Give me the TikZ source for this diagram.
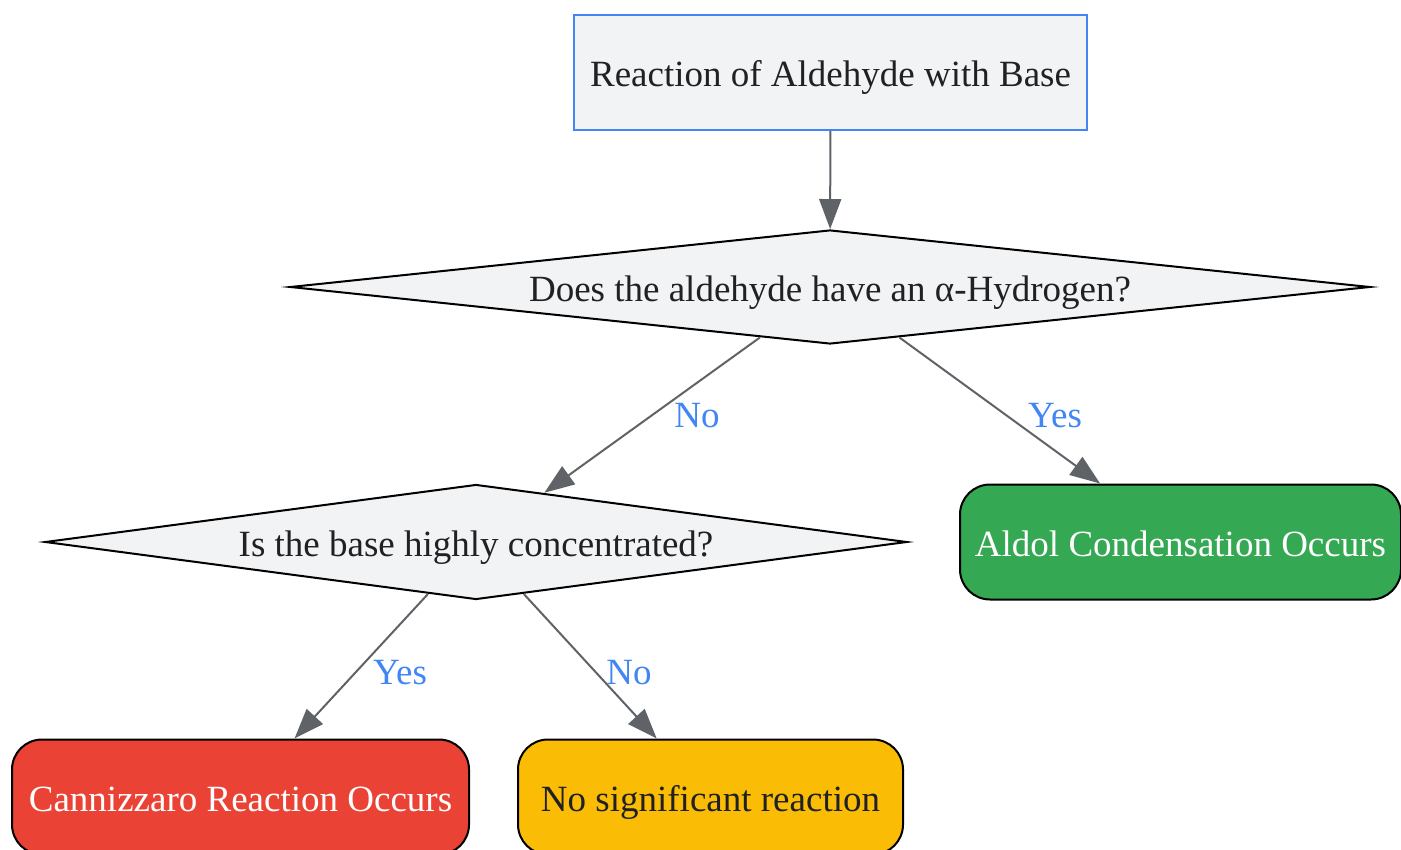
\documentclass[tikz,border=0pt]{standalone}
\usepackage{fontspec}
\setmainfont{Liberation Serif}
\usepackage{tikz}
\usetikzlibrary{arrows.meta,shapes.geometric,positioning}

\definecolor{boxgray}{HTML}{F1F3F4}
\definecolor{gblue}{HTML}{4285F4}
\definecolor{ggreen}{HTML}{34A853}
\definecolor{gred}{HTML}{EA4335}
\definecolor{gyellow}{HTML}{FBBC05}
\definecolor{arrowgray}{HTML}{5F6368}
\definecolor{inkdark}{HTML}{202124}

\tikzset{
  lowtext/.style={text height=16pt, text depth=1.5pt},
  startbox/.style={lowtext, draw=gblue, fill=boxgray, line width=1pt, text=inkdark,
    minimum width=256.5pt, minimum height=57.5pt},
  question/.style={lowtext, diamond, draw=black, fill=boxgray, line width=1pt, text=inkdark,
    aspect=10, inner sep=0pt},
  outcome/.style={lowtext, draw=black, line width=1pt, rounded corners=15pt, minimum height=57.5pt},
  arr/.style={draw=arrowgray, line width=1pt, -{Triangle[length=15pt,width=11pt]}},
  lbl/.style={text=gblue}
}

\begin{document}
\begin{tikzpicture}[x=0.5pt, y=-0.5pt, font=\fontsize{18.5}{22}\selectfont]
  \useasboundingbox (0,0) rectangle (1401,850);

  % Nodes
  \node[startbox] (start) at (830.5,72.5) {Reaction of Aldehyde with Base};
  \node[question, minimum width=540pt, minimum height=57pt] (alpha) at (830,287)
    {Does the aldehyde have an α-Hydrogen?};
  \node[question, minimum width=431pt, minimum height=57.5pt] (conc) at (476,542)
    {Is the base highly concentrated?};
  \node[outcome, fill=ggreen, text=white, minimum width=220.5pt] (aldol) at (1180.5,542)
    {Aldol Condensation Occurs};
  \node[outcome, fill=gred, text=white, minimum width=228.5pt] (cann) at (240.5,797)
    {Cannizzaro Reaction Occurs};
  \node[outcome, fill=gyellow, text=inkdark, minimum width=192.5pt] (none) at (710.5,797)
    {No significant reaction};

  % Edges
  \draw[arr] (start) -- (alpha);
  \draw[arr] (alpha) -- (conc) node[lbl] (alphano) at (697,416) {No};
  \draw[arr] (alpha) -- (aldol) node[lbl] (alphayes) at (1055,416) {Yes};
  \draw[arr] (conc) -- (cann) node[lbl] (concyes) at (400,673) {Yes};
  \draw[arr] (conc) -- (none) node[lbl] (concno) at (629,673) {No};
\end{tikzpicture}
\end{document}
